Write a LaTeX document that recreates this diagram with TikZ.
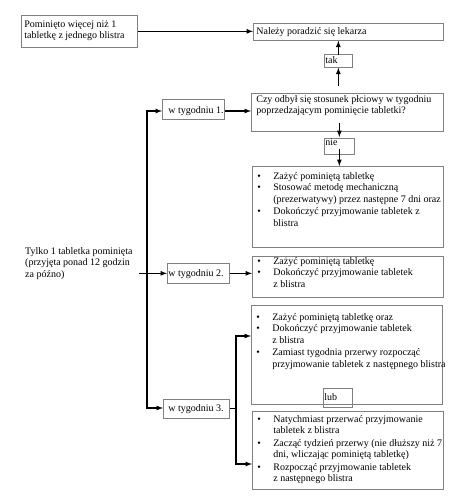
\documentclass[tikz,border=0pt]{standalone}
\usepackage{fontspec}
\setmainfont{Liberation Serif}
% box contents: width, height, left pad, top pad, text
\newcommand{\ramka}[5]{\parbox[t][#2pt][t]{#1pt}{\raggedright\leftskip=#3pt\vspace*{#4pt}#5}}
\newcommand{\pkt}[1]{\par\makebox[16pt][l]{\textbullet}\begin{tabular}[t]{@{}l@{}}#1\end{tabular}\par}

\begin{document}
\begin{tikzpicture}[
                x=1pt,y=-1pt,
                every node/.append style={black,inner sep=0pt,anchor=north west,
                    font=\fontsize{10}{11.5}\selectfont},
                kratka/.style={draw=gray,line width=0.7pt},
                strzalka/.style={black,line width=1.2pt,-latex},
                linia/.style={black,line width=1.2pt}
            ]
                \useasboundingbox (0,0) rectangle (457,500);

                \node[kratka] (pomin) at (21,15)
                    {\ramka{116}{32}{3}{4}{\strut Pominięto więcej niż 1\\tabletkę z jednego blistra}};
                \node[kratka] (lekarz) at (253,23)
                    {\ramka{190}{17}{3}{3}{\strut Należy poradzić się lekarza}};
                \node[kratka] (tak) at (324,54)
                    {\ramka{28}{13}{1}{1}{\strut tak}};
                \node[kratka] (pytanie) at (251,93)
                    {\ramka{192}{38}{5}{1}{\strut Czy odbył się stosunek płciowy w tygodniu\\poprzedzającym pominięcie tabletki?}};
                \node[kratka] (nie) at (324,138)
                    {\ramka{30}{16}{1}{-1}{\strut nie}};
                \node[kratka] (tydz1) at (162,99)
                    {\ramka{62}{20}{6}{6}{\strut w tygodniu 1.}};
                \node[kratka] (rada1) at (252,166)
                    {\ramka{191}{81}{5}{5}{%
                        \pkt{Zażyć pominiętą tabletkę}%
                        \pkt{Stosować metodę mechaniczną\\(prezerwatywy) przez następne 7 dni oraz}%
                        \pkt{Dokończyć przyjmowanie tabletek z\\blistra}}};

                \node (tylko) at (25,246)
                    {\ramka{112}{36}{0}{0}{\strut Tylko 1 tabletka pominięta\\(przyjęta ponad 12 godzin\\za późno)}};
                \node[kratka] (tydz2) at (167,263)
                    {\ramka{62}{20}{1}{5}{\strut w tygodniu 2.}};
                \node[kratka] (rada2) at (252,256)
                    {\ramka{191}{41}{5}{0}{%
                        \pkt{Zażyć pominiętą tabletkę}%
                        \pkt{Dokończyć przyjmowanie tabletek\\z blistra}}};

                \node[kratka] (rada3a) at (251,305)
                    {\ramka{191}{99}{5}{7}{%
                        \pkt{Zażyć pominiętą tabletkę oraz}%
                        \pkt{Dokończyć przyjmowanie tabletek\\z blistra}%
                        \pkt{Zamiast tygodnia przerwy rozpocząć\\przyjmowanie tabletek z następnego blistra}}};
                \node[kratka] (lub) at (323,388)
                    {\ramka{29}{19}{1}{4}{\strut lub}};
                \node[kratka] (tydz3) at (163,399)
                    {\ramka{66}{19}{5}{4}{\strut w tygodniu 3.}};
                \node[kratka] (rada3b) at (252,411)
                    {\ramka{191}{78}{5}{3}{%
                        \pkt{Natychmiast przerwać przyjmowanie\\tabletek z blistra}%
                        \pkt{Zacząć tydzień przerwy (nie dłuższy niż 7\\dni, wliczając pominiętą tabletkę)}%
                        \pkt{Rozpocząć przyjmowanie tabletek\\z następnego blistra}}};

                \coordinate (g) at (147,111);
                \coordinate (d) at (147,408);
                \coordinate (wg) at (236,336);
                \coordinate (wd) at (236,464);

                \draw[strzalka] (pomin.east) -- (pomin.east -| lekarz.west);
                \draw[strzalka] ([yshift=7pt]pytanie.north -| tak.south) -- (tak.south);
                \draw[strzalka] ([yshift=-1pt]tak.north) -- (tak.north |- lekarz.south);
                \draw[strzalka] ([yshift=9pt]pytanie.south -| nie.north) -- ([yshift=1pt]nie.north);
                \draw[strzalka] ([yshift=6pt]nie.south) -- (nie.south |- rada1.north);

                \draw[strzalka,latex-latex] (g -| tydz1.west) -- (g) -- (d) -- (d -| tydz3.west);
                \draw[strzalka] (tydz1.east |- g) -- (g -| pytanie.west);
                \draw[strzalka] ([xshift=2pt]tylko.east |- tydz2.west) -- (tydz2.west);
                \draw[strzalka] (tydz2.east) -- (tydz2.east -| rada2.west);
                \draw[linia] (tydz3.east) -- (tydz3.east -| wg);
                \draw[strzalka,latex-latex] (wg -| rada3a.west) -- (wg) -- (wd) -- (wd -| rada3b.west);
            \end{tikzpicture}
\end{document}
